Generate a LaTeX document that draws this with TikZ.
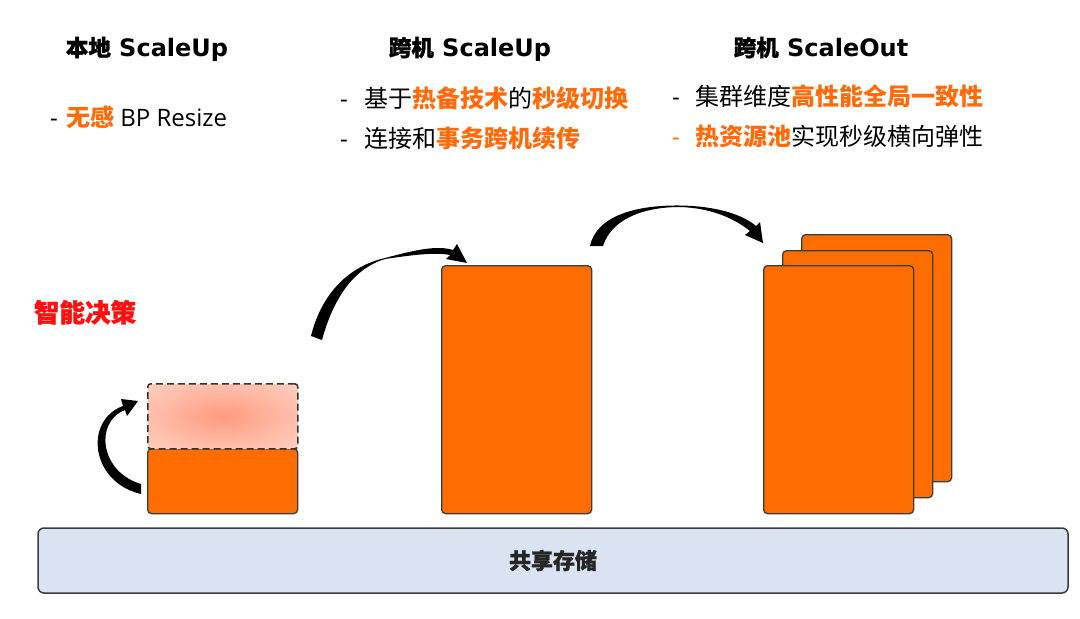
\documentclass[tikz,border=0pt]{standalone}
\usepackage{fontspec}
\setmainfont{Open Sans}
\newfontfamily\cjk{Noto Sans CJK SC}
\newfontfamily\cjkheavy{Noto Sans CJK SC}[BoldFeatures={FakeBold=1.2}]
\newfontfamily\wide{DejaVu Sans}
\definecolor{org}{HTML}{FF6D00}
\definecolor{txtorg}{HTML}{FF6A0A}
\definecolor{edge}{HTML}{3C3C3C}
\definecolor{store}{HTML}{DAE3F2}
\definecolor{hred}{HTML}{FF1010}
\definecolor{pinkin}{HTML}{FF9A80}
\definecolor{pinkmid}{HTML}{FFBCA8}
\definecolor{pinkout}{HTML}{FFE2D8}
\pgfdeclareradialshading{ghostshade}{\pgfpoint{0bp}{0bp}}{color(0bp)=(pinkin); color(22bp)=(pinkmid); color(48bp)=(pinkout); color(50bp)=(pinkout)}
\begin{document}
\begin{tikzpicture}[x=1pt,y=-1pt,
  blk/.style={draw=edge,line width=1.3pt,fill=org,rounded corners=4pt,anchor=north west,inner sep=0pt},
  ttl/.style={font=\fontsize{24}{28}\selectfont\wide\bfseries,inner sep=0pt,anchor=base},
  body/.style={font=\fontsize{24}{28}\selectfont,inner sep=0pt,anchor=base west},
  arrowfill/.style={fill=black}
]
\useasboundingbox[fill=white] (0,0) rectangle (1080,619);

% titles
\node[ttl] (t1) at (147,56) {{\cjkheavy\bfseries\fontsize{22.5}{26}\selectfont 本地} ScaleUp};
\node[ttl] (t2) at (470,56) {{\cjkheavy\bfseries\fontsize{22.5}{26}\selectfont 跨机} ScaleUp};
\node[ttl] (t3) at (821,56) {{\cjkheavy\bfseries\fontsize{22.5}{26}\selectfont 跨机} ScaleOut};

% bullet lines
\node[body] (d1) at (50,126) {-};
\node[body] (l1) at (66,126) {{\cjk\bfseries\color{txtorg}无感} BP Resize};

\node[body] (d2) at (340,107) {-};
\node[body] (l2) at (364,107) {\cjk 基于{\bfseries\color{txtorg}热备技术}的{\bfseries\color{txtorg}秒级切换}};
\node[body] (d3) at (340,147) {-};
\node[body] (l3) at (364,147) {\cjk 连接和{\bfseries\color{txtorg}事务跨机续传}};

\node[body] (d4) at (672,105) {-};
\node[body] (l4) at (695,105) {\cjk 集群维度{\bfseries\color{txtorg}高性能全局一致性}};
\node[body,text=txtorg] (d5) at (672,145) {-};
\node[body] (l5) at (695,145) {\cjk {\bfseries\color{txtorg}热资源池}实现秒级横向弹性};

% decision label
\node[font=\fontsize{25.5}{29}\selectfont\cjkheavy\bfseries,text=hred,inner sep=0pt,anchor=base] (dec) at (85,322) {智能决策};

% shared storage
\node[draw=edge,line width=1.5pt,fill=store,rounded corners=6pt,minimum width=1030pt,minimum height=65pt,inner sep=0pt,font=\fontsize{22}{26}\selectfont\cjkheavy\bfseries,text=black!85] (st) at (553,560.5) {共享存储};

% local scale-up
\node[blk,minimum width=150pt,minimum height=65pt] (small) at (147,448) {};
\node[anchor=north west,inner sep=0pt,minimum width=150pt,minimum height=65pt,draw=black!80,line width=1.5pt,dash pattern=on 7pt off 4pt,rounded corners=3pt,shading=ghostshade] (ghost) at (147,383) {};

% cross-machine scale-up
\node[blk,minimum width=150pt,minimum height=248pt] (mid) at (441,265) {};

% scale-out stack
\node[blk,minimum width=150pt,minimum height=247pt] (b3) at (801,234) {};
\node[blk,minimum width=150pt,minimum height=247pt] (b2) at (782,250) {};
\node[blk,minimum width=150pt,minimum height=248pt] (b1) at (763,265) {};

% arrows (tapered ribbons)
\fill[arrowfill] (141,494) .. controls (90,482) and (84,420) .. (123,406) -- (121,399) -- (138,401) -- (127,416) -- (125,410) .. controls (94,422) and (100,472) .. (141,484) -- cycle;

\fill[arrowfill] (311,336) .. controls (322,292) and (350,266) .. (385,258) .. controls (415,250) and (437,245) .. (453,250) -- (457,244) -- (467,263) -- (446,259) -- (450,255) .. controls (435,252) and (412,255) .. (385,259) .. controls (355,268) and (334,296) .. (322,340) -- cycle;

\fill[arrowfill] (590,246) .. controls (597,214) and (640,205) .. (680,205.5) .. controls (715,206) and (742,214) .. (756,226) -- (760,222) -- (763,243) -- (745,235) -- (750,231) .. controls (735,219) and (712,208) .. (680,207) .. controls (645,207) and (612,218) .. (603,246) -- cycle;
\end{tikzpicture}
\end{document}
